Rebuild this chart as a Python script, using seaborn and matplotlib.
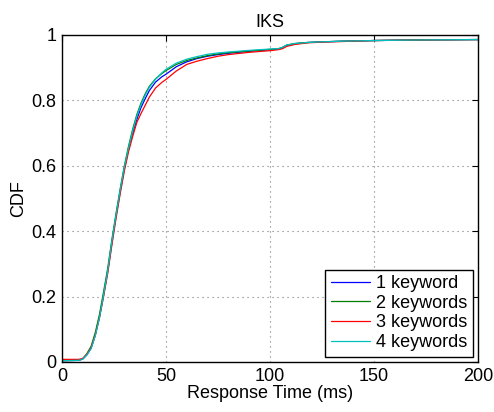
import numpy as np
import pandas as pd
import seaborn as sns
import matplotlib.pyplot as plt

# response time (ms) sample points
x_ms = [0, 8, 10, 12, 14, 16, 18, 20, 22, 24, 26, 28, 30, 32, 34, 36, 38, 40, 42,
        45, 48, 50, 55, 60, 65, 70, 75, 80, 90, 100, 104, 106, 108, 112, 118, 125,
        135, 150, 175, 200]

cdf_1kw = [0.004, 0.005, 0.009, 0.022, 0.042, 0.082, 0.137, 0.205, 0.278, 0.365, 0.447,
           0.522, 0.592, 0.652, 0.700, 0.742, 0.778, 0.805, 0.830,
           0.856, 0.872, 0.880, 0.903, 0.918, 0.928, 0.935, 0.940, 0.944, 0.950, 0.955,
           0.957, 0.961, 0.968, 0.973, 0.977, 0.979, 0.981, 0.983, 0.985, 0.986]
cdf_2kw = [0.004, 0.005, 0.010, 0.026, 0.048, 0.090, 0.145, 0.215, 0.287, 0.375, 0.455,
           0.530, 0.600, 0.660, 0.712, 0.757, 0.792, 0.820, 0.843,
           0.866, 0.882, 0.891, 0.910, 0.922, 0.930, 0.937, 0.942, 0.946, 0.951, 0.956,
           0.958, 0.962, 0.969, 0.974, 0.977, 0.979, 0.981, 0.983, 0.985, 0.986]
cdf_3kw = [0.008, 0.008, 0.011, 0.024, 0.044, 0.083, 0.135, 0.200, 0.272, 0.358, 0.440,
           0.515, 0.585, 0.643, 0.690, 0.733, 0.760, 0.785, 0.810,
           0.838, 0.855, 0.864, 0.890, 0.910, 0.920, 0.928, 0.935, 0.940, 0.947, 0.952,
           0.955, 0.958, 0.965, 0.971, 0.976, 0.978, 0.980, 0.983, 0.985, 0.986]
cdf_4kw = [0.004, 0.005, 0.009, 0.022, 0.041, 0.080, 0.135, 0.205, 0.280, 0.370, 0.450,
           0.527, 0.597, 0.655, 0.707, 0.752, 0.787, 0.816, 0.840,
           0.865, 0.884, 0.895, 0.914, 0.926, 0.934, 0.941, 0.945, 0.948, 0.953, 0.957,
           0.958, 0.962, 0.969, 0.974, 0.977, 0.979, 0.981, 0.983, 0.985, 0.986]

labels = ["1 keyword", "2 keywords", "3 keywords", "4 keywords"]
colors = ["#0000ff", "#007f00", "#ff0000", "#00bfbf"]

sns.set_style("white")
plt.rcParams['font.family'] = ['Liberation Sans', 'DejaVu Sans']
plt.rcParams['font.size'] = 13
plt.rcParams['text.color'] = 'black'
plt.rcParams['axes.labelcolor'] = 'black'
plt.rcParams['xtick.color'] = 'black'
plt.rcParams['ytick.color'] = 'black'

fig = plt.figure(figsize=(4.94, 4.12), dpi=100)
ax = fig.add_axes([0.1255, 0.1214, 0.842, 0.7937])

for vals, lab, col in zip([cdf_1kw, cdf_2kw, cdf_3kw, cdf_4kw], labels, colors):
    df = pd.DataFrame({"t": x_ms, "cdf": vals})
    sns.lineplot(data=df, x="t", y="cdf", color=col, label=lab, lw=0.9,
                 estimator=None, sort=False, ax=ax)

ax.set_xlim(0, 200)
ax.set_ylim(0, 1)
ax.set_xticks([0, 50, 100, 150, 200])
ax.set_yticks([0, 0.2, 0.4, 0.6, 0.8, 1])
ax.set_yticklabels(["0", "0.2", "0.4", "0.6", "0.8", "1"])
ax.grid(True, linestyle=(0, (1, 3.5)), color="#777777", lw=0.8)
ax.tick_params(direction="in", length=4, width=0.8, top=True, right=True,
               labelsize=13, pad=4, colors="black")
for sp in ax.spines.values():
    sp.set_color("black")
    sp.set_linewidth(1.0)

ax.set_xlabel("Response Time (ms)", fontsize=13, labelpad=0)
ax.set_ylabel("CDF", fontsize=13, labelpad=3)
ax.set_title("IKS", fontsize=13, pad=6)

leg = ax.legend(loc="lower right", fontsize=13, frameon=True, fancybox=False,
                edgecolor="black", framealpha=1, labelspacing=0.15,
                handlelength=2.2, handletextpad=0.3, borderpad=0.3,
                borderaxespad=0.3)
leg.get_frame().set_linewidth(1.0)
for t in leg.get_texts():
    t.set_color("black")

fig.savefig("out.png", dpi=100)
